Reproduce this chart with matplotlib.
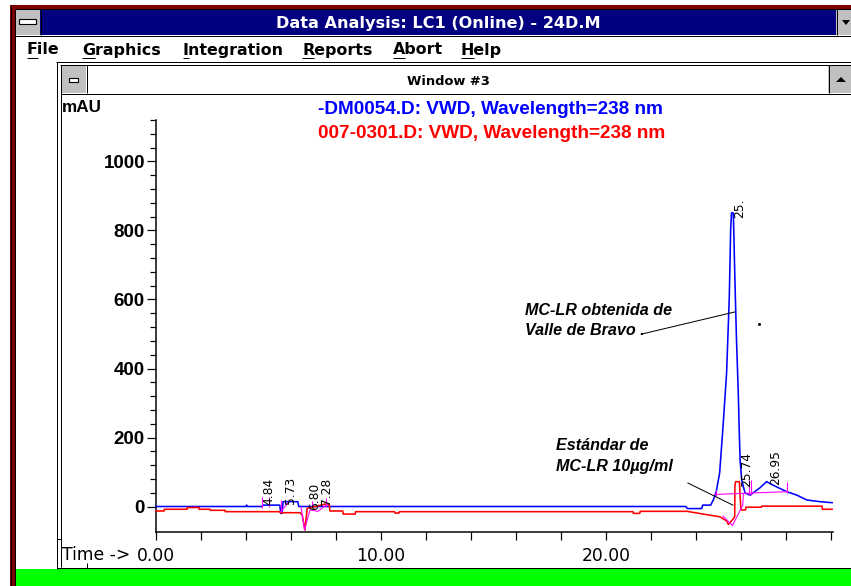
import numpy as np
import matplotlib
matplotlib.use("Agg")
import matplotlib.pyplot as plt
from matplotlib.patches import Rectangle, Polygon

# ---------------- data ----------------
# DM0054.D (blue) : time in min, absorbance in mAU
blue_t = [0.0, 4.0, 4.03, 4.06, 4.7, 4.76, 5.5, 5.55, 5.6, 5.65, 6.3, 6.35,
          23.55, 23.62, 24.25, 24.3, 24.65, 24.77, 24.9, 25.05, 25.2, 25.36,
          25.48, 25.54, 25.58, 25.66, 25.73, 25.8, 25.88, 25.92, 25.96, 26.03,
          26.18, 26.4, 26.84, 27.14, 27.42, 28.03, 28.48, 28.92, 29.51, 30.05]
blue_v = [0, 0, 4, 0, 0, 4, 4, -20, -20, 14, 14, 0,
          0, -6, -6, 4, 4, 19, 43, 97, 231, 387,
          608, 801, 851, 851, 656, 483, 329, 222, 135, 77,
          39, 33, 54, 72, 62, 43, 33, 19, 14, 11]

# 007-0301.D (red)
red_t = [0.0, 0.36, 0.37, 1.38, 1.39, 1.91, 1.92, 2.4, 2.41, 3.07, 3.08, 5.5,
         5.52, 6.4, 6.5, 6.62, 6.72, 6.9, 7.2, 7.5, 7.7, 7.73, 8.3, 8.32,
         8.85, 8.87, 10.6, 10.62, 10.8, 10.82, 21.2, 21.22, 21.5, 21.52, 23.6, 24.6,
         25.07, 25.36, 25.44, 25.6, 25.72, 25.73, 25.76, 25.93, 25.96, 26.0, 26.2, 26.22,
         26.9, 26.92, 29.6, 29.62, 30.05]
red_v = [-13, -13, -8, -8, -3, -3, -8, -8, -11, -11, -15, -15,
         -18, -18, -25, -68, -5, -3, 2, 7, 5, -13, -13, -22,
         -22, -15, -15, -19, -19, -15, -15, -20, -20, -14, -14, -25,
         -30, -42, -52, -40, -30, 60, 72, 72, 30, -10, -10, -2,
         -2, 1, 1, -8, -8]

# integration events (magenta)
mark_t = [4.7, 5.02, 5.54, 6.92, 7.54, 24.87, 26.36, 26.44, 28.03]
mark_lo = [-5, 0, -15, -2, 0, 29, 33, 33, 40]
mark_hi = [28, 28, 19, 17, 24, 48, 77, 77, 72]
base_t = [24.85, 28.03]
base_v = [35, 43]
early_t = [5.55, 5.9]
early_v = [-15, 14]
dip1_t = [6.45, 6.6, 6.84, 7.2, 7.6]
dip1_v = [-2, -68, -10, -14, 6]
dip2_t = [25.2, 25.62, 26.08, 26.1]
dip2_v = [-28, -55, 4, 35]

# retention-time labels
rt_text = ["4.84", "5.73", "6.80", "7.28", "25.", "25.74", "26.95"]
rt_x = [5.02, 5.96, 7.04, 7.58, 25.96, 26.25, 27.55]
rt_y = [4, 7, -10, 4, 836, 57, 62]

x_major = [0, 10, 20]
x_labels = ["0.00", "10.00", "20.00"]
x_minor = list(range(0, 31, 2))
y_major = [0, 200, 400, 600, 800, 1000]
y_minor = list(range(40, 1121, 40))

# ---------------- figure / window chrome ----------------
W, H = 851, 586
fig = plt.figure(figsize=(W / 100, H / 100), dpi=100)
fig.patch.set_facecolor("white")
bg = fig.add_axes([0, 0, 1, 1])
bg.set_xlim(0, W)
bg.set_ylim(H, 0)
bg.axis("off")

PX = 0.72  # one pixel in points


def rect(x0, y0, x1, y1, fc, ec="none", lw=0.0, z=1):
    bg.add_patch(Rectangle((x0, y0), x1 - x0, y1 - y0, facecolor=fc,
                           edgecolor=ec, linewidth=lw, zorder=z))


def hl(y, x0, x1, c="black", w=1.0, z=3):
    bg.plot([x0, x1], [y, y], color=c, lw=w * PX, solid_capstyle="butt", zorder=z)


def vl(x, y0, y1, c="black", w=1.0, z=3):
    bg.plot([x, x], [y0, y1], color=c, lw=w * PX, solid_capstyle="butt", zorder=z)


NAVY = "#000080"
GRAY = "#c0c0c0"
DRED = "#800000"
UI_FONT = dict(family="DejaVu Sans", fontweight="bold")

# outer frame
rect(10, 5, W, 9, DRED, z=2)
rect(10, 5, 15, H, DRED, z=2)
vl(10.5, 5, H)
vl(14.5, 9, H)
hl(8.5, 15, W)

# application title bar
rect(15, 9, 836, 35, NAVY, z=2)
rect(15, 9, 40, 35, GRAY, z=2)
vl(40.5, 9, 35)
rect(19, 19, 36, 24, "white", ec="black", lw=0.8, z=4)
rect(836, 9, W, 35, GRAY, z=2)
vl(836.5, 9, 35)
bg.add_patch(Polygon([[842, 20], [850, 20], [846, 25]], closed=True,
                     facecolor="black", edgecolor="none", zorder=4))
hl(35.5, 15, W)
bg.text(438, 28, "Data Analysis: LC1 (Online) - 24D.M", color="white",
        fontsize=11.6, ha="center", va="baseline", zorder=5, **UI_FONT)

# menu bar
menu_items = ["File", "Graphics", "Integration", "Reports", "Abort", "Help"]
menu_x = [27, 82, 183, 302, 393, 461]
renderer = fig.canvas.get_renderer()
for lbl, mx in zip(menu_items, menu_x):
    bg.text(mx, 54.5, lbl, color="black", fontsize=11.4,
            ha="left", va="baseline", zorder=5, **UI_FONT)
    t0 = bg.text(mx, 54.5, lbl[0], fontsize=11.4, **UI_FONT)
    w0 = t0.get_window_extent(renderer=renderer).width
    t0.remove()
    hl(57.5, mx, mx + w0)

# child window frame
hl(61.5, 56, W)
hl(64.5, 60, W)
vl(56.5, 61.5, 569)
vl(60.5, 64.5, 567)
hl(538.5, 56.5, 60.5)
hl(567.5, 56.5, W)
vl(86.5, 563, 567.5)
rect(61, 65, 86, 93, GRAY, z=2)
vl(86.5, 65, 93)
rect(69, 77.5, 78, 81.5, "white", ec="black", lw=0.8, z=4)
rect(828, 65, W, 93, GRAY, z=2)
vl(828.5, 65, 93)
bg.add_patch(Polygon([[836, 82], [846, 82], [841, 77]], closed=True,
                     facecolor="black", edgecolor="none", zorder=4))
hl(93.5, 60.5, W)
bg.text(448, 85, "Window #3", color="black", fontsize=9.4,
        ha="center", va="baseline", zorder=5, **UI_FONT)

# status strip
rect(15, 569, W, H, "#00ff00", z=2)

# plot captions
bg.text(62, 112, "mAU", fontsize=12.3, fontweight="bold", family="Liberation Sans",
        ha="left", va="baseline", zorder=5)
bg.text(318, 114.5, "-DM0054.D: VWD, Wavelength=238 nm", color="#0000ff",
        fontsize=13.7, fontweight="bold", family="Liberation Sans",
        ha="left", va="baseline", zorder=5)
bg.text(318, 137.5, "007-0301.D: VWD, Wavelength=238 nm", color="#ff0000",
        fontsize=13.7, fontweight="bold", family="Liberation Sans",
        ha="left", va="baseline", zorder=5)
bg.text(62, 560, "Time ->", fontsize=12.3, family="DejaVu Sans",
        ha="left", va="baseline", zorder=5)

# ---------------- chromatogram axes ----------------
x0p, x1p, y0p, y1p = 156, 833, 120, 532
ax = fig.add_axes([x0p / W, (H - y1p) / H, (x1p - x0p) / W, (y1p - y0p) / H])
ax.patch.set_alpha(0)
px_per_min = 22.5
px_per_mau = 0.345
y_zero_px = 506.5
ax.set_xlim(0, (x1p - x0p) / px_per_min)
ax.set_ylim(-(y1p - y_zero_px) / px_per_mau, (y_zero_px - y0p) / px_per_mau)

for s in ("top", "right"):
    ax.spines[s].set_visible(False)
for s in ("left", "bottom"):
    ax.spines[s].set_linewidth(1.5 * PX)

ax.set_xticks(x_major)
ax.set_xticklabels(x_labels, fontsize=12.3, family="DejaVu Sans")
ax.set_xticks(x_minor, minor=True)
ax.tick_params(axis="x", which="both", direction="out", length=6 * PX * 1.39,
               width=1.2 * PX, pad=4.5)
ax.set_yticks(y_major)
ax.set_yticklabels([str(v) for v in y_major], fontsize=13.5, fontweight="bold",
                   family="Liberation Sans")
ax.set_yticks(y_minor, minor=True)
ax.tick_params(axis="y", which="major", direction="out", length=6.5, width=1.2 * PX, pad=1.5)
ax.tick_params(axis="y", which="minor", direction="out", length=4.3, width=1.2 * PX)

lw = 1.6 * PX
ax.plot(blue_t, blue_v, color="#0000ff", lw=lw, zorder=3, clip_on=False)
ax.plot(red_t, red_v, color="#ff0000", lw=lw, zorder=4, clip_on=False)

mag = "#ff00ff"
mw = 1.1 * PX
ax.vlines(mark_t, mark_lo, mark_hi, color=mag, lw=mw, zorder=5)
ax.plot(base_t, base_v, color=mag, lw=mw, zorder=5)
ax.plot(early_t, early_v, color=mag, lw=mw, zorder=5)
ax.plot(dip1_t, dip1_v, color=mag, lw=mw, zorder=5)
ax.plot(dip2_t, dip2_v, color=mag, lw=mw, zorder=5)

for txt, tx, ty in zip(rt_text, rt_x, rt_y):
    ax.text(tx, ty, txt, rotation=90, fontsize=8.8, family="DejaVu Sans",
            ha="center", va="bottom", zorder=6)

# sample annotations with leader lines
ann_font = dict(fontsize=11.6, fontweight="bold", fontstyle="italic",
                family="Liberation Sans", ha="left", va="baseline", zorder=6)
ax.text(16.4, 555, "MC-LR obtenida de", **ann_font)
ax.text(16.4, 497, "Valle de Bravo .", **ann_font)
ax.plot([21.6, 25.73], [500, 564], color="black", lw=1.0 * PX, zorder=6)
ax.plot([26.8], [529], marker="s", ms=1.0, color="black", zorder=6)

ax.text(17.78, 164, "Estándar de", **ann_font)
ax.text(17.78, 103, "MC-LR 10µg/ml", **ann_font)
ax.plot([23.64, 25.64], [68, 4], color="black", lw=1.0 * PX, zorder=6)

fig.savefig("out.png", dpi=100, facecolor="white")
